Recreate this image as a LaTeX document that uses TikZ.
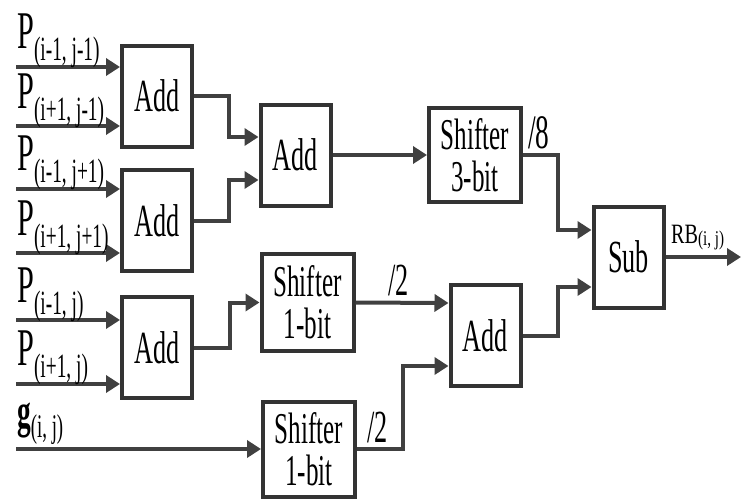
\documentclass[tikz,border=0pt]{standalone}
\usepackage{fontspec}
\setmainfont[FakeStretch=0.57]{Liberation Serif}
\newfontfamily\rbfont[FakeStretch=0.72]{Liberation Serif}
\usetikzlibrary{arrows.meta}
\definecolor{ln}{HTML}{404040}
\definecolor{bx}{HTML}{333333}
\newcommand\plab[1]{{\fontsize{53}{53}\selectfont P}\raisebox{-12pt}{\fontsize{34}{34}\selectfont #1}}
\tikzset{
 blk/.style={draw=bx, line width=4pt, minimum width=70pt, minimum height=101pt, inner sep=0pt, align=center, font=\fontsize{46}{41}\selectfont, fill=white},
 shf/.style={blk, minimum width=92pt, minimum height=94pt, font=\fontsize{44}{42}\selectfont},
 arr/.style={draw=ln, line width=4pt, -{Triangle[length=14pt,width=17pt]}},
 lab/.style={anchor=base west, inner sep=0pt},
}
\begin{document}
\begin{tikzpicture}[x=1pt,y=-1pt]
\useasboundingbox (0,0) rectangle (744,499);
% blocks
\node[blk] (add1) at (157,96) {Add};
\node[blk] (add2) at (157,220.5) {Add};
\node[blk] (add3) at (157,347.5) {Add};
\node[blk] (add4) at (295.5,155) {Add};
\node[shf] (sh3) at (475,155) {Shifter\\3-bit};
\node[shf, minimum height=97pt] (sh1a) at (307.5,302.5) {Shifter\\1-bit};
\node[shf, minimum height=95pt] (sh1b) at (309,449) {Shifter\\1-bit};
\node[blk] (add5) at (485.5,335.5) {Add};
\node[blk] (sub) at (628.5,257) {Sub};
% inputs
\coordinate (i1) at (16,67);
\coordinate (i2) at (16,126);
\coordinate (i3) at (16,189);
\coordinate (i4) at (16,253);
\coordinate (i5) at (16,320);
\coordinate (i6) at (16,384);
\coordinate (i7) at (16,449);
\coordinate (out) at (741,257);
\draw[arr] (i1) -- (i1 -| add1.west);
\draw[arr] (i2) -- (i2 -| add1.west);
\draw[arr] (i3) -- (i3 -| add2.west);
\draw[arr] (i4) -- (i4 -| add2.west);
\draw[arr] (i5) -- (i5 -| add3.west);
\draw[arr] (i6) -- (i6 -| add3.west);
\draw[arr] (i7) -- (sh1b.west);
% input labels
\node[lab] (l1) at (17,48) {\plab{(i-1, j-1)}};
\node[lab] (l2) at (17,108) {\plab{(i+1, j-1)}};
\node[lab] (l3) at (17,170) {\plab{(i-1, j+1)}};
\node[lab] (l4) at (17,235) {\plab{(i+1, j+1)}};
\node[lab] (l5) at (17,302) {\plab{(i-1, j)}};
\node[lab] (l6) at (17,365) {\plab{(i+1, j)}};
\node[lab] (l7) at (17,427) {{\fontsize{48}{48}\selectfont\bfseries g}\raisebox{-10pt}{\fontsize{33}{33}\selectfont (i, j)}};
% internal connectors
\draw[arr] (add1.east) -- ++(35pt,0) |- ([yshift=18pt]add4.west);
\draw[arr] (add2.east) -- ++(35pt,0) |- ([yshift=-25pt]add4.west);
\draw[arr] (add3.east) -- ++(36pt,0) |- (sh1a.west);
\draw[arr] (add4.east) -- (sh3.west);
\draw[arr] (sh3.east) -- ++(35pt,0) |- ([yshift=27pt]sub.west);
\draw[arr] (sh1a.east) -- ([yshift=32.5pt]add5.west);
\draw[arr] (sh1b.east) -- ++(46pt,0) |- ([yshift=-30.5pt]add5.west);
\draw[arr] (add5.east) -- ++(35pt,0) |- ([yshift=-30pt]sub.west);
\draw[arr] (sub.east) -- (out);
% labels on connectors
\node[lab, font=\fontsize{48}{48}\selectfont] (d8) at (528,148) {/8};
\node[lab, font=\fontsize{46}{46}\selectfont] (d2a) at (388,295) {/2};
\node[lab, font=\fontsize{46}{46}\selectfont] (d2b) at (367,442) {/2};
\node[lab] (rb) at (671,243) {{\rbfont\fontsize{28}{28}\selectfont RB}\raisebox{-2pt}{\rbfont\fontsize{21}{21}\selectfont (i, j)}};
\end{tikzpicture}
\end{document}
